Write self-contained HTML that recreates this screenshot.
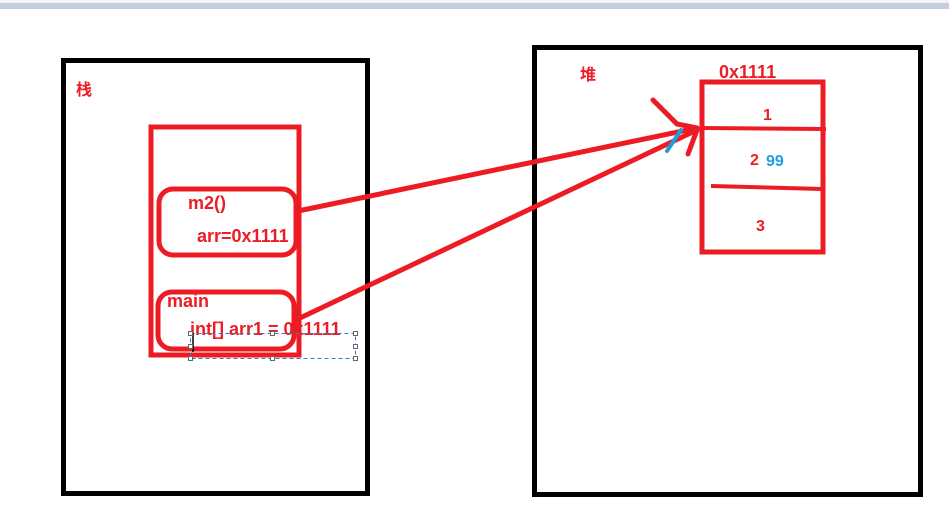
<!DOCTYPE html>
<html><head><meta charset="utf-8"><style>
html,body{margin:0;padding:0;background:#fff;width:949px;height:516px;overflow:hidden}
svg{display:block}
text{font-family:"Liberation Sans","Noto Sans CJK SC",sans-serif;font-weight:bold;fill:#ed1c24}
</style></head><body>
<svg width="949" height="516" viewBox="0 0 949 516" xmlns="http://www.w3.org/2000/svg">
<rect x="0" y="0" width="949" height="3" fill="#f3f3f3"/>
<rect x="0" y="3" width="949" height="6" fill="#c5cede"/>
<rect x="63.5" y="60.5" width="304" height="433" fill="none" stroke="#000" stroke-width="5"/>
<rect x="534.5" y="47.5" width="386" height="447" fill="none" stroke="#000" stroke-width="5"/>
<text x="76" y="95" font-size="16">栈</text>
<text x="580" y="80" font-size="16">堆</text>
<rect x="151" y="127" width="148" height="228" fill="none" stroke="#ed1c24" stroke-width="5"/>
<rect x="159" y="189" width="137" height="66" rx="14" fill="none" stroke="#ed1c24" stroke-width="5"/>
<rect x="158" y="292" width="136" height="57" rx="14" fill="none" stroke="#ed1c24" stroke-width="5"/>
<text x="188" y="209" font-size="18">m2()</text>
<text x="197" y="242" font-size="18">arr=0x1111</text>
<text x="167" y="307" font-size="18">main</text>
<text x="190" y="335" font-size="18">int[] arr1 = 0x1111</text>
<rect x="190.5" y="333.5" width="165" height="25" fill="none" stroke="#3a7cc4" stroke-width="1" stroke-dasharray="4,3"/>
<line x1="193" y1="333" x2="193" y2="352" stroke="#000" stroke-width="1.5"/>
<g fill="#fff" stroke="#666" stroke-width="1">
<rect x="188.5" y="331.5" width="4" height="4"/><rect x="270.5" y="331.5" width="4" height="4"/><rect x="353.5" y="331.5" width="4" height="4"/>
<rect x="188.5" y="344.5" width="4" height="4"/><rect x="353.5" y="344.5" width="4" height="4"/>
<rect x="188.5" y="356.5" width="4" height="4"/><rect x="270.5" y="356.5" width="4" height="4"/><rect x="353.5" y="356.5" width="4" height="4"/>
</g>
<rect x="702" y="82" width="121" height="170" fill="none" stroke="#ed1c24" stroke-width="5"/>
<path d="M702 128 L826 129" stroke="#ed1c24" stroke-width="4" fill="none"/>
<path d="M711 186 L822 189" stroke="#ed1c24" stroke-width="4" fill="none"/>
<text x="719" y="78" font-size="18">0x1111</text>
<text x="763" y="120" font-size="16">1</text>
<text x="750" y="165" font-size="16">2</text>
<text x="766" y="166" font-size="16" style="fill:#1ea0e0">99</text>
<text x="756" y="231" font-size="16">3</text>
<g stroke="#ed1c24" stroke-width="5" stroke-linecap="round" fill="none">
<line x1="298" y1="211" x2="697" y2="128"/>
<line x1="300" y1="318" x2="697" y2="130"/>
<line x1="653" y1="100" x2="677" y2="124"/>
<line x1="677" y1="124" x2="697" y2="128"/>
<line x1="697" y1="130" x2="688" y2="154"/>
</g>
<line x1="681" y1="130" x2="667" y2="151" stroke="#1ea0e0" stroke-width="4" stroke-linecap="round"/>
</svg>
</body></html>
